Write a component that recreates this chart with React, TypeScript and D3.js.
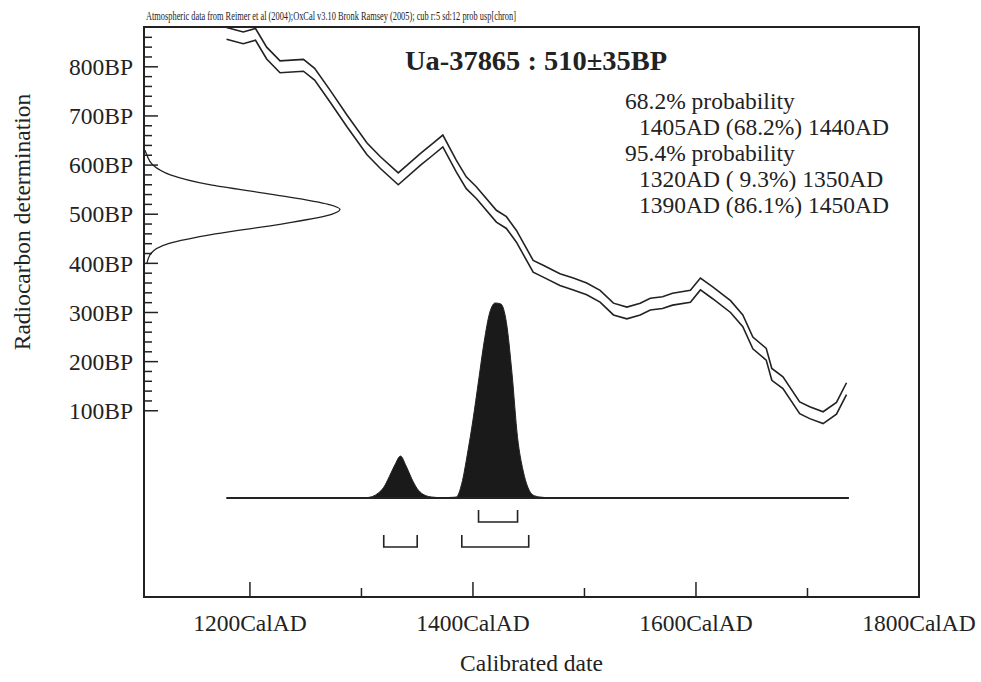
import React from 'react';
import * as d3 from 'd3';

const W = 981;
const H = 682;

// calibration curve (mean, BP)
const curveYears = [1179, 1194, 1205, 1215, 1227, 1248, 1258, 1272, 1287, 1305, 1317, 1333, 1353, 1364, 1373, 1385, 1394, 1403, 1421, 1430, 1439, 1454, 1463, 1478, 1490, 1502, 1514, 1526, 1538, 1550, 1559, 1570, 1579, 1595, 1604, 1615, 1631, 1642, 1651, 1663, 1668, 1678, 1693, 1702, 1714, 1726, 1735];
const curveBP = [868, 859, 866, 828, 800, 803, 785, 740, 690, 633, 605, 572, 612, 632, 649, 598, 564, 544, 496, 483, 455, 394, 384, 367, 358, 348, 333, 307, 299, 307, 317, 320, 327, 333, 358, 340, 312, 283, 238, 215, 174, 157, 106, 96, 86, 105, 145];
const curveSigma = 12;

// radiocarbon measurement 510±35BP, relative density
const measBP = [400, 420, 440, 460, 480, 500, 510, 520, 540, 560, 580, 600, 620, 630];
const measDensity = [0.01, 0.03, 0.12, 0.36, 0.7, 0.96, 1.0, 0.94, 0.66, 0.33, 0.13, 0.04, 0.01, 0];

// calibrated probability
const calYears = [1179, 1300, 1305, 1310, 1315, 1320, 1325, 1330, 1335, 1340, 1345, 1350, 1355, 1360, 1365, 1370, 1375, 1380, 1385, 1390, 1395, 1400, 1405, 1410, 1415, 1420, 1425, 1430, 1435, 1440, 1445, 1450, 1455, 1460, 1470, 1737];
const calProb = [0, 0, 0.002, 0.008, 0.025, 0.055, 0.11, 0.17, 0.215, 0.165, 0.1, 0.048, 0.02, 0.008, 0.004, 0.002, 0.002, 0.003, 0.005, 0.075, 0.225, 0.4, 0.6, 0.8, 0.95, 1.0, 0.995, 0.9, 0.64, 0.31, 0.14, 0.045, 0.012, 0.005, 0.001, 0];

const ranges68 = [[1405, 1440]];
const ranges95 = [[1320, 1350], [1390, 1450]];

const yLabelValues = [100, 200, 300, 400, 500, 600, 700, 800];
const xLabelValues = [1200, 1400, 1600, 1800];
const xTickValues = [1200, 1300, 1400, 1500, 1600, 1700];

const header = 'Atmospheric data from Reimer et al (2004);OxCal v3.10 Bronk Ramsey (2005); cub r:5 sd:12 prob usp[chron]';
const title = 'Ua-37865 : 510\u00b135BP';
const resultLines = [
  { text: '68.2% probability', indent: false },
  { text: '1405AD (68.2%) 1440AD', indent: true },
  { text: '95.4% probability', indent: false },
  { text: '1320AD ( 9.3%) 1350AD', indent: true },
  { text: '1390AD (86.1%) 1450AD', indent: true },
];

const ink = '#222';
const font = '"Liberation Serif", "Times New Roman", serif';

const left = 144, right = 919, top = 27, bottom = 597;

export default function App() {
  const x = d3.scaleLinear().domain([1105, 1800]).range([left, right]);
  const y = d3.scaleLinear().domain([-279, 881]).range([bottom, top]);
  const yProb = d3.scaleLinear().domain([0, 1]).range([498, 303]);
  const xMeas = d3.scaleLinear().domain([0, 1]).range([left + 1, 340]);

  const upper = d3.line<number>()
    .x((d, i) => x(curveYears[i]))
    .y((d) => y(d + curveSigma));
  const lower = d3.line<number>()
    .x((d, i) => x(curveYears[i]))
    .y((d) => y(d - curveSigma));

  const measLine = d3.line<number>()
    .x((d, i) => xMeas(measDensity[i]))
    .y((d) => y(d))
    .curve(d3.curveMonotoneY);

  const calArea = d3.area<number>()
    .x((d, i) => x(calYears[i]))
    .y0(yProb(0))
    .y1((d) => yProb(d))
    .curve(d3.curveMonotoneX);

  const yTicks = d3.range(100, 861, 20);

  const bracket = (r: number[], y0: number, k: string) => (
    <path key={k}
      d={`M${x(r[0])},${y0}V${y0 + 12}H${x(r[1])}V${y0}`}
      fill="none" stroke={ink} strokeWidth={1.6} />
  );

  return (
    <svg width={W} height={H} style={{ position: 'absolute', left: 0, top: 0, background: '#fff' }}
      fontFamily={font}>
      <defs>
        <clipPath id="frame">
          <rect x={left} y={top} width={right - left} height={bottom - top} />
        </clipPath>
      </defs>

      <text x={146} y={20} fontSize={12} textLength={370} lengthAdjust="spacingAndGlyphs" fill={ink}>{header}</text>

      {/* frame */}
      <rect x={left} y={top} width={right - left} height={bottom - top} fill="none" stroke={ink} strokeWidth={2} />

      {/* y ticks */}
      {yTicks.map((v) => (
        <line key={v} x1={left} x2={left + (v % 100 === 0 ? 14 : 8)} y1={y(v)} y2={y(v)} stroke={ink} strokeWidth={1.5} />
      ))}
      {yLabelValues.map((v) => (
        <text key={v} x={133} y={y(v)} dy="0.35em" textAnchor="end" fontSize={23.5} fill={ink}>{v}BP</text>
      ))}
      <text transform={`translate(30,222) rotate(-90)`} textAnchor="middle" fontSize={23.5} fill={ink}>Radiocarbon determination</text>

      {/* x ticks */}
      {xTickValues.map((v) => (
        <line key={v} x1={x(v)} x2={x(v)} y1={bottom} y2={bottom - (v % 200 === 0 ? 15 : 9)} stroke={ink} strokeWidth={1.5} />
      ))}
      {xLabelValues.map((v) => (
        <text key={v} x={x(v)} y={631} textAnchor="middle" fontSize={23.5} fill={ink}>{v}CalAD</text>
      ))}
      <text x={(left + right) / 2} y={671} textAnchor="middle" fontSize={23.5} fill={ink}>Calibrated date</text>

      {/* calibration curve */}
      <g clipPath="url(#frame)" fill="none" stroke={ink} strokeWidth={1.6}>
        <path d={upper(curveBP) || ''} />
        <path d={lower(curveBP) || ''} />
      </g>

      {/* measurement */}
      <path d={measLine(measBP) || ''} fill="none" stroke={ink} strokeWidth={1.3} />

      {/* calibrated distribution */}
      <path d={calArea(calProb) || ''} fill="#1a1a1a" stroke={ink} strokeWidth={1} />
      <line x1={x(calYears[0])} x2={x(calYears[calYears.length - 1])} y1={yProb(0)} y2={yProb(0)} stroke={ink} strokeWidth={2} />

      {ranges68.map((r, i) => bracket(r, 510, 'a' + i))}
      {ranges95.map((r, i) => bracket(r, 535, 'b' + i))}

      {/* title and results */}
      <text x={405} y={70} fontSize={28} fontWeight="bold" fill={ink} textLength={262} lengthAdjust="spacingAndGlyphs">{title}</text>
      {resultLines.map((l, i) => (
        <text key={i} x={l.indent ? 639 : 625} y={108.5 + i * 26} fontSize={23.5} fill={ink} style={{ whiteSpace: 'pre' }}>{l.text}</text>
      ))}
    </svg>
  );
}
